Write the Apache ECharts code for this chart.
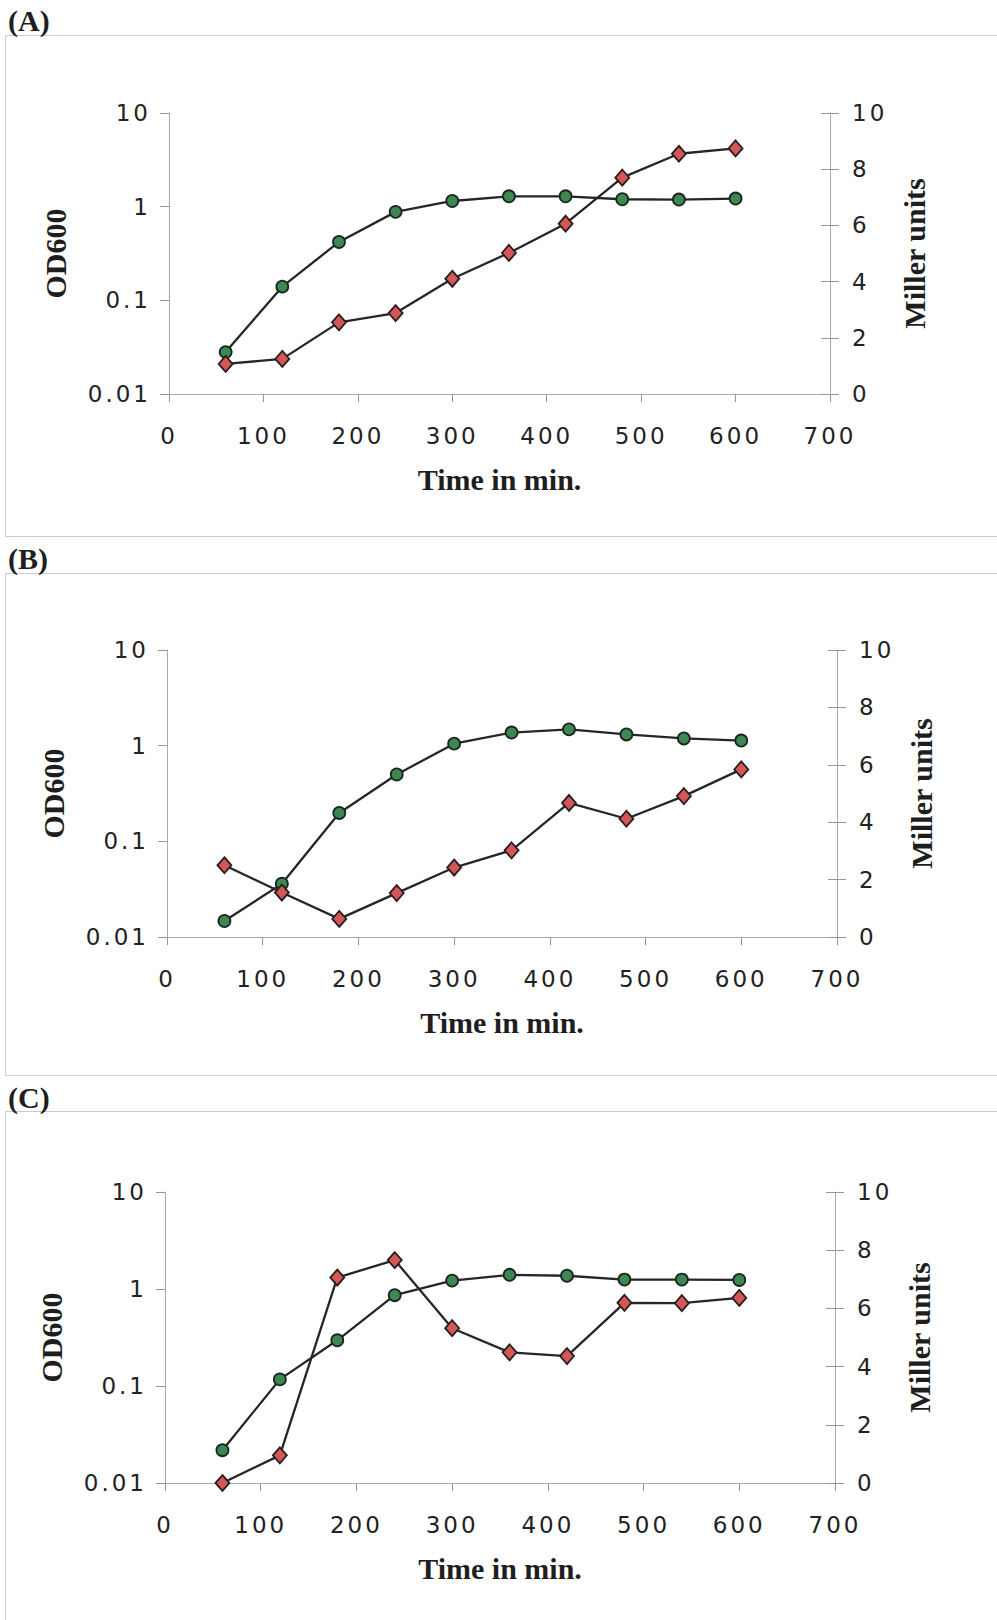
<!DOCTYPE html>
<html>
<head>
<meta charset="utf-8">
<title>OD600 and Miller units</title>
<script src="https://cdn.jsdelivr.net/npm/echarts@6.0.0/dist/echarts.min.js"></script>
<style>
html, body { margin: 0; padding: 0; background: #fff; }
#chart { width: 997px; height: 1620px; }
/* tick labels in the figure are spaced out */
#chart text[style*="DejaVu"] { letter-spacing: 3px; }
</style>
</head>
<body>
<div id="chart"></div>
<script>
	// sampling times (min)
	var times = [60, 120, 180, 240, 300, 360, 420, 480, 540, 600];

	// (A)
	var odA = [0.028, 0.14, 0.42, 0.88, 1.15, 1.29, 1.29, 1.2, 1.19, 1.22];
	var millerA = [1.07, 1.25, 2.55, 2.88, 4.1, 5.02, 6.06, 7.7, 8.55, 8.74];
	// (B)
	var odB = [0.0147, 0.036, 0.198, 0.5, 1.05, 1.37, 1.48, 1.31, 1.19, 1.13];
	var millerB = [2.5, 1.55, 0.63, 1.53, 2.42, 3.02, 4.67, 4.12, 4.91, 5.84];
	// (C)
	var odC = [0.0218, 0.117, 0.296, 0.863, 1.22, 1.4, 1.37, 1.25, 1.25, 1.24];
	var millerC = [0, 0.95, 7.06, 7.66, 5.32, 4.49, 4.36, 6.19, 6.18, 6.36];

	// tick labels
	var timeTicks = [0, 100, 200, 300, 400, 500, 600, 700];
	var timeTickLabels = ['0', '100', '200', '300', '400', '500', '600', '700'];
	var odTicks = [0.01, 0.1, 1, 10];
	var odTickLabels = ['0.01', '0.1', '1', '10'];
	var millerTicks = [0, 2, 4, 6, 8, 10];
	var millerTickLabels = ['0', '2', '4', '6', '8', '10'];

	var panelLabels = ['(A)', '(B)', '(C)'];
	var odSets = [odA, odB, odC];
	var millerSets = [millerA, millerB, millerC];

	/* layout of the three panels */
	var grids = [
		{left: 169, top: 113, width: 661, height: 281},
		{left: 167, top: 650, width: 670, height: 287},
		{left: 165, top: 1192, width: 670, height: 291}
	];
	var boxes = [
		{y: 35, h: 501, ly: 5},
		{y: 573, h: 502, ly: 543},
		{y: 1111, h: 520, ly: 1082}
	];

	var axisColor = '#a3abb8';
	var tickColor = '#8f97a4';
	var labelFont = {fontFamily: 'DejaVu Sans', fontSize: 23, color: '#222'};
	var nameFont = {fontFamily: 'Liberation Serif', fontWeight: 'bold', fontSize: 30, color: '#1e1e1e'};

	function pick(ticks, labels, v){
		for(var i=0;i<ticks.length;i++){
			if(Math.abs(v - ticks[i]) < ticks[i] * 1e-6 + 1e-9){
				return labels[i];
			}
		}
		return '';
	}

	function pairs(ys){
		var out = [];
		for(var i=0;i<times.length;i++){
			out.push([times[i], ys[i]]);
		}
		return out;
	}

	var xAxes = [], yAxes = [], seriesA = [], graphics = [];
	for(var i=0;i<3;i++){
		xAxes.push({
			gridIndex: i,
			type: 'value',
			min: 0, max: 700, interval: 100,
			name: 'Time in min.',
			nameLocation: 'middle',
			nameGap: 70,
			nameTextStyle: nameFont,
			axisLine: {show: true, lineStyle: {color: axisColor, width: 1}},
			axisTick: {show: true, length: 8, lineStyle: {color: tickColor}},
			axisLabel: Object.assign({margin: 30, showMinLabel: true, showMaxLabel: true,
				formatter: function(v){ return pick(timeTicks, timeTickLabels, v); }}, labelFont),
			splitLine: {show: false}
		});
		// left log axis
		yAxes.push({
			gridIndex: i,
			type: 'log', logBase: 10,
			min: 0.01, max: 10,
			position: 'left',
			name: 'OD600',
			nameLocation: 'middle',
			nameGap: 99,
			nameTextStyle: nameFont,
			axisLine: {show: true, lineStyle: {color: axisColor, width: 1}},
			axisTick: {show: true, length: 9, lineStyle: {color: tickColor}},
			minorTick: {show: false},
			axisLabel: Object.assign({margin: 18, showMinLabel: true, showMaxLabel: true,
				formatter: function(v){ return pick(odTicks, odTickLabels, v); }}, labelFont),
			splitLine: {show: false}
		});
		// right linear axis, outer ticks + labels
		yAxes.push({
			gridIndex: i,
			type: 'value',
			min: 0, max: 10, interval: 2,
			position: 'right',
			name: 'Miller units',
			nameLocation: 'middle',
			nameGap: 69,
			nameTextStyle: nameFont,
			axisLine: {show: true, lineStyle: {color: axisColor, width: 1}},
			axisTick: {show: true, length: 9, lineStyle: {color: tickColor}},
			axisLabel: Object.assign({margin: 22, showMinLabel: true, showMaxLabel: true,
				formatter: function(v){ return pick(millerTicks, millerTickLabels, v); }}, labelFont),
			splitLine: {show: false}
		});
		// same axis again, only the inner half of the crossing ticks
		yAxes.push({
			gridIndex: i,
			type: 'value',
			min: 0, max: 10, interval: 2,
			position: 'right',
			axisLine: {show: false},
			axisTick: {show: true, inside: true, length: 9, lineStyle: {color: tickColor}},
			axisLabel: {show: false},
			splitLine: {show: false}
		});

		seriesA.push({
			name: 'OD600',
			type: 'line',
			xAxisIndex: i,
			yAxisIndex: 3 * i,
			data: pairs(odSets[i]),
			symbol: 'circle',
			symbolSize: 12,
			lineStyle: {color: '#262626', width: 2.3},
			itemStyle: {color: '#3d8753', borderColor: '#1b261e', borderWidth: 1.8},
			z: 3
		});
		seriesA.push({
			name: 'Miller units',
			type: 'line',
			xAxisIndex: i,
			yAxisIndex: 3 * i + 1,
			data: pairs(millerSets[i]),
			symbol: 'diamond',
			symbolSize: [14, 16],
			lineStyle: {color: '#262626', width: 2.3},
			itemStyle: {color: '#d45656', borderColor: '#261e1e', borderWidth: 1.8},
			z: 4
		});

		graphics.push({
			type: 'rect',
			silent: true,
			shape: {x: 5.5, y: boxes[i].y + 0.5, width: 1000, height: boxes[i].h},
			style: {fill: 'none', stroke: '#c9ccd3', lineWidth: 1}
		});
		graphics.push({
			type: 'text',
			silent: true,
			left: 8,
			top: boxes[i].ly,
			style: {text: panelLabels[i], font: 'bold 30px "Liberation Serif"', fill: '#1e1e1e'}
		});
	}

	var myChart = echarts.init(document.getElementById('chart'), null, {renderer: 'svg'});
	var option = {
		animation: false,
		backgroundColor: '#fff',
		grid: grids.map(function(g){ return Object.assign({containLabel: false, outerBoundsMode: 'none'}, g); }),
		xAxis: xAxes,
		yAxis: yAxes,
		series: seriesA,
		graphic: graphics
	};
	myChart.setOption(option);
</script>
</body>
</html>
